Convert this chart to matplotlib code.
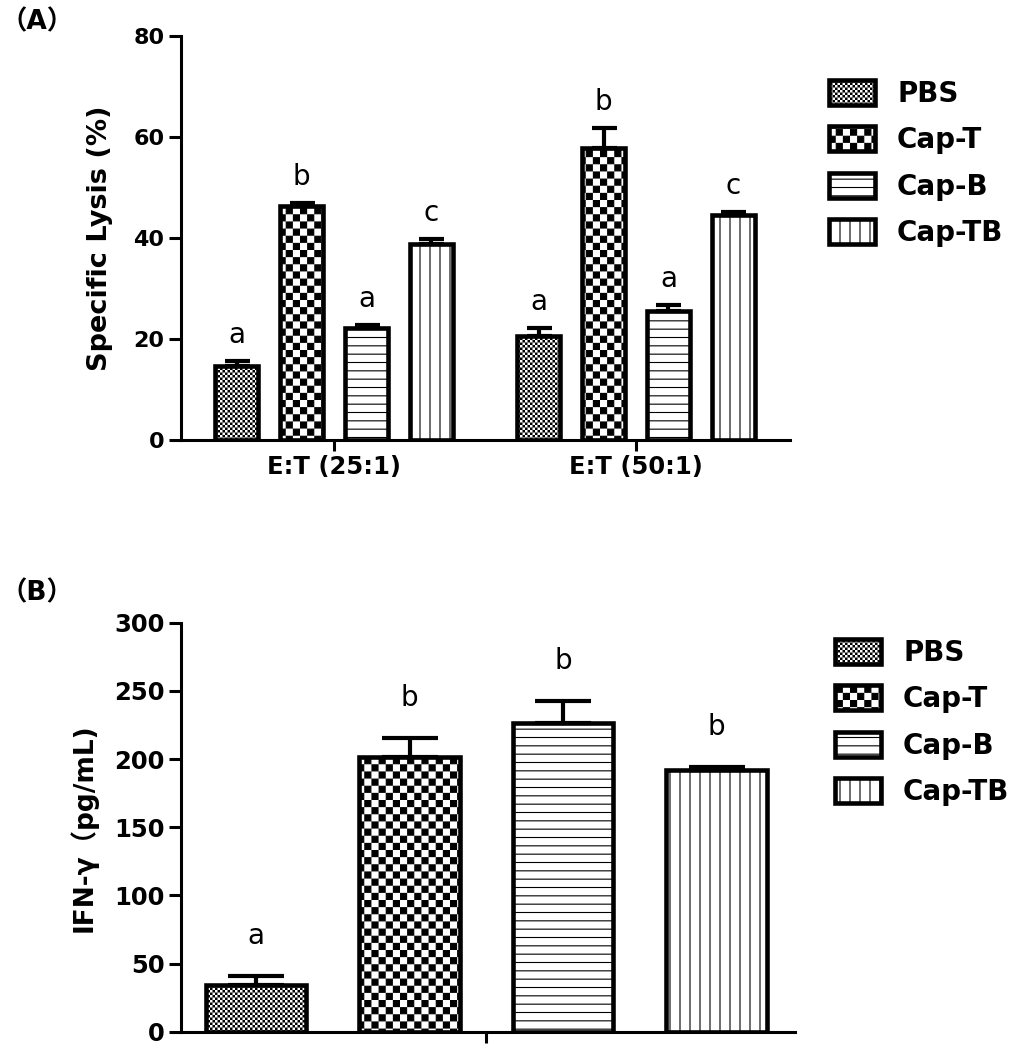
import numpy as np
import matplotlib
matplotlib.use("Agg")
import matplotlib.pyplot as plt
import matplotlib.hatch as mhatch
from matplotlib.path import Path

plt.rcParams['font.family'] = ['DejaVu Sans', 'Noto Sans CJK SC']
plt.rcParams['hatch.linewidth'] = 0.8
plt.rcParams['hatch.color'] = 'black'

# ---- data -------------------------------------------------------------
series = ["PBS", "Cap-T", "Cap-B", "Cap-TB"]

groups_a = ["E:T (25:1)", "E:T (50:1)"]
lysis_mean = [[14.7, 20.6], [46.4, 57.8], [22.2, 25.6], [38.8, 44.6]]
lysis_err = [[1.0, 1.5], [0.5, 4.0], [0.6, 1.2], [1.0, 0.5]]
lysis_letters = [["a", "a"], ["b", "b"], ["a", "a"], ["c", "c"]]
lysis_ticks = [0, 20, 40, 60, 80]

ifn_mean = [34, 201.5, 226.5, 192]
ifn_err = [7, 14, 16, 2]
ifn_letters = ["a", "b", "b", "b"]
ifn_ticks = [0, 50, 100, 150, 200, 250, 300]

# 'k' = one checker period per hatch tile, 'v' = one vertical line per tile
hatches = ["k" * 20, "k" * 7, "--", "v" * 10]


# ---- custom hatches (checkerboard, vertical lines) --------------------
class CheckerHatch(mhatch.HatchPatternBase):
    def __init__(self, hatch, density):
        self.n = hatch.count('k')
        self.num_vertices = self.n * self.n * 2 * 5

    def set_vertices_and_codes(self, vertices, codes):
        n = self.n
        step = 1.0 / n
        shrink = 0.011
        side = step / 2 - shrink
        sq = np.array([[0, 0], [side, 0], [side, side], [0, side], [0, 0]])
        parts = []
        for i in range(n):
            for j in range(n):
                for dx, dy in [(0, 0), (step / 2, step / 2)]:
                    parts.append(sq + [i * step + dx + shrink / 2,
                                       j * step + dy + shrink / 2])
        vertices[:] = np.concatenate(parts)
        codes[:] = np.tile([Path.MOVETO, Path.LINETO, Path.LINETO,
                            Path.LINETO, Path.CLOSEPOLY], n * n * 2)


class VLineHatch(mhatch.HatchPatternBase):
    def __init__(self, hatch, density):
        self.n = hatch.count('v')
        self.num_vertices = (self.n + 1) * 2 if self.n else 0

    def set_vertices_and_codes(self, vertices, codes):
        xs = np.linspace(0, 1, self.n + 1)
        vertices[0::2, 0] = xs
        vertices[0::2, 1] = 0
        vertices[1::2, 0] = xs
        vertices[1::2, 1] = 1
        codes[0::2] = Path.MOVETO
        codes[1::2] = Path.LINETO


mhatch._hatch_types.append(CheckerHatch)
mhatch._hatch_types.append(VLineHatch)
mhatch._validate_hatch_pattern = lambda h: None


def style_axes(ax, ticks, tick_size):
    ax.spines['top'].set_visible(False)
    ax.spines['right'].set_visible(False)
    ax.spines['left'].set_linewidth(2.2)
    ax.spines['bottom'].set_linewidth(2.2)
    ax.set_ylim(0, ticks[-1])
    ax.set_yticks(ticks, [str(t) for t in ticks], fontsize=tick_size,
                  fontweight='bold')
    ax.tick_params(axis='y', direction='out', length=9, width=2.2, pad=3)
    ax.tick_params(axis='x', direction='out', length=8, width=2.2, pad=3)


def add_legend(ax, x_px, y_px):
    ax.legend(loc='upper left', bbox_to_anchor=(x_px / W, 1 - y_px / H),
              bbox_transform=fig.transFigure, frameon=False,
              prop={'weight': 'bold', 'size': 20}, handlelength=1.65,
              handleheight=1.0, handletextpad=0.8, labelspacing=0.66,
              borderpad=0, borderaxespad=0)


W, H = 1024, 1047
fig = plt.figure(figsize=(W / 100, H / 100), dpi=100)

# ---- panel A ----------------------------------------------------------
ax_a = fig.add_axes([181 / W, 1 - 440 / H, 609 / W, 404 / H])
x_a = np.arange(len(groups_a))
step_a = 0.215
width_a = 0.141
for i, name in enumerate(series):
    xs = x_a + (i - 1.5) * step_a
    ax_a.bar(xs, lysis_mean[i], width_a, color='white', edgecolor='black',
             linewidth=3.3, hatch=hatches[i], label=name)
    ax_a.errorbar(xs, lysis_mean[i], yerr=[np.zeros(len(xs)), lysis_err[i]],
                  fmt='none', ecolor='black', elinewidth=3, capsize=9,
                  capthick=3, zorder=3)
    for xv, m, e, t in zip(xs, lysis_mean[i], lysis_err[i], lysis_letters[i]):
        ax_a.annotate(t, (xv, m + e), xytext=(0, 13),
                      textcoords='offset points', ha='center', va='baseline',
                      fontsize=20)

style_axes(ax_a, lysis_ticks, 16)
ax_a.set_xlim(-0.507, 1.51)
ax_a.set_xticks(x_a, groups_a, fontsize=17.5, fontweight='bold')
ax_a.set_ylabel("Specific Lysis (%)", fontsize=19.5, fontweight='bold')
ax_a.yaxis.set_label_coords(-0.112, 0.5)
add_legend(ax_a, 829, 80)

# ---- panel B ----------------------------------------------------------
ax_b = fig.add_axes([181 / W, 1 - 1031.7 / H, 614 / W, 409 / H])
x_b = np.arange(len(series)) - 1.5
width_b = 0.655
for i, name in enumerate(series):
    ax_b.bar(x_b[i], ifn_mean[i], width_b, color='white', edgecolor='black',
             linewidth=3.3, hatch=hatches[i], label=name)
ax_b.errorbar(x_b, ifn_mean, yerr=[np.zeros(len(x_b)), ifn_err], fmt='none',
              ecolor='black', elinewidth=3, capsize=20, capthick=3, zorder=3)
for xv, m, e, t in zip(x_b, ifn_mean, ifn_err, ifn_letters):
    ax_b.annotate(t, (xv, m + e), xytext=(0, 23), textcoords='offset points',
                  ha='center', va='baseline', fontsize=20)

style_axes(ax_b, ifn_ticks, 17.5)
ax_b.set_xlim(-1.99, 2.01)
ax_b.set_xticks([0], [""])
ax_b.set_ylabel("IFN-γ（pg/mL)", fontsize=19, fontweight='bold')
ax_b.yaxis.set_label_coords(-0.135, 0.5)
add_legend(ax_b, 835, 639)

# ---- panel letters ----------------------------------------------------
fig.text(0.0, 1 - 9 / H, "（A）", fontsize=19, fontweight='bold',
         ha='left', va='top')
fig.text(0.0, 1 - 580 / H, "（B）", fontsize=19, fontweight='bold',
         ha='left', va='top')

fig.savefig("out.png", dpi=100)
